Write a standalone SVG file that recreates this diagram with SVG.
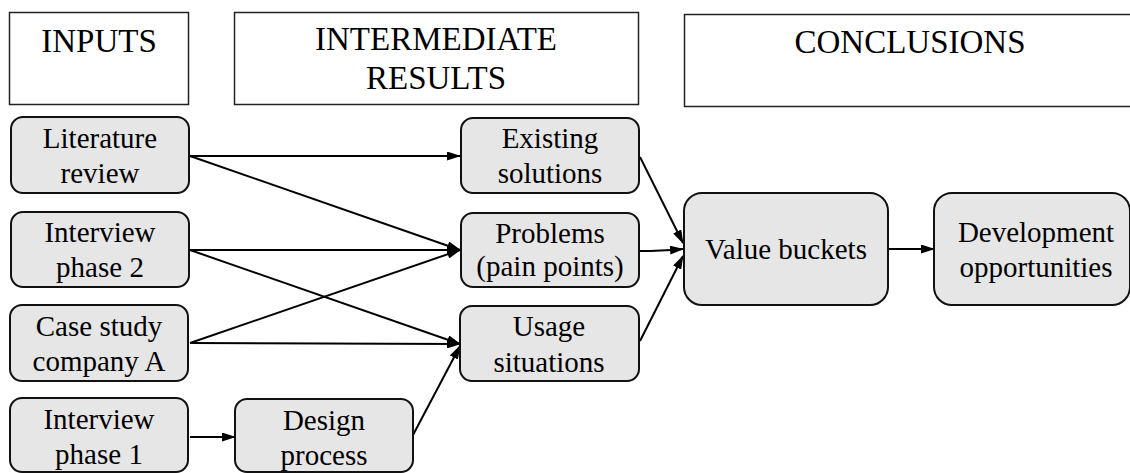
<svg xmlns="http://www.w3.org/2000/svg" width="1130" height="473" viewBox="0 0 1130 473">
<style>
text{font-family:'Liberation Serif','Times New Roman',serif;fill:#000;text-anchor:middle}
.hdr{fill:#fff;stroke:#222;stroke-width:1.5}
.node{fill:#e6e6e6;stroke:#111;stroke-width:2}
.ht{font-size:33px}
.t{font-size:29px}
.c{fill:none;stroke:#000;stroke-width:2;marker-end:url(#ah)}
</style>
<defs>
<marker id="ah" viewBox="0 0 14 9" refX="13" refY="4.5" markerWidth="14" markerHeight="9" markerUnits="userSpaceOnUse" orient="auto">
<path d="M0,0 L14,4.5 L0,9 Z" fill="#000"/>
</marker>
</defs>
<g id="hdr-inputs"><rect class="hdr" x="9.5" y="12.5" width="179" height="92"/><text class="ht" x="99" y="52">INPUTS</text></g>
<g id="hdr-intermediate"><rect class="hdr" x="234.5" y="12.5" width="404" height="92"/><text class="ht" x="436" y="50">INTERMEDIATE</text><text class="ht" x="436" y="89">RESULTS</text></g>
<g id="hdr-conclusions"><rect class="hdr" x="684.5" y="14.5" width="450" height="92"/><text class="ht" x="910" y="53">CONCLUSIONS</text></g>

<g id="connectors">
<line class="c" x1="190" y1="156" x2="460" y2="156"/>
<line class="c" x1="190" y1="156" x2="460" y2="250"/>
<line class="c" x1="190" y1="250" x2="460" y2="250"/>
<line class="c" x1="190" y1="250" x2="460" y2="344"/>
<line class="c" x1="190" y1="343" x2="460" y2="250"/>
<line class="c" x1="190" y1="343" x2="460" y2="344"/>
<line class="c" x1="190" y1="437" x2="235" y2="437"/>
<line class="c" x1="413" y1="435" x2="460" y2="346"/>
<line class="c" x1="640" y1="157" x2="683" y2="243"/>
<path class="c" d="M640,251 Q660,251 683,249"/>
<line class="c" x1="640" y1="341" x2="683" y2="256"/>
<line class="c" x1="889" y1="249" x2="934" y2="249"/>
</g>

<g id="n-literature"><rect class="node" x="11" y="117" width="178" height="76" rx="12"/><text class="t" x="100" y="148">Literature</text><text class="t" x="100" y="183">review</text></g>
<g id="n-interview2"><rect class="node" x="11" y="212" width="178" height="75" rx="12"/><text class="t" x="100" y="242">Interview</text><text class="t" x="100" y="277">phase 2</text></g>
<g id="n-casestudy"><rect class="node" x="10" y="305" width="178" height="76" rx="12"/><text class="t" x="99" y="336">Case study</text><text class="t" x="99" y="371">company A</text></g>
<g id="n-interview1"><rect class="node" x="10" y="398" width="178" height="74" rx="12"/><text class="t" x="99" y="429">Interview</text><text class="t" x="99" y="464">phase 1</text></g>
<g id="n-design"><rect class="node" x="235" y="399" width="178" height="73" rx="12"/><text class="t" x="324" y="430">Design</text><text class="t" x="324" y="465">process</text></g>
<g id="n-existing"><rect class="node" x="461" y="118" width="178" height="75" rx="12"/><text class="t" x="550" y="148">Existing</text><text class="t" x="550" y="183">solutions</text></g>
<g id="n-problems"><rect class="node" x="461" y="213" width="178" height="74" rx="12"/><text class="t" x="550" y="243">Problems</text><text class="t" x="550" y="276">(pain points)</text></g>
<g id="n-usage"><rect class="node" x="460" y="306" width="179" height="75" rx="12"/><text class="t" x="549" y="336">Usage</text><text class="t" x="549" y="372">situations</text></g>
<g id="n-value"><rect class="node" x="684" y="193" width="204" height="112" rx="18"/><text class="t" x="786" y="259">Value buckets</text></g>
<g id="n-development"><rect class="node" x="934" y="193" width="196" height="112" rx="18"/><text class="t" x="1036" y="242">Development</text><text class="t" x="1036" y="277">opportunities</text></g>
</svg>
